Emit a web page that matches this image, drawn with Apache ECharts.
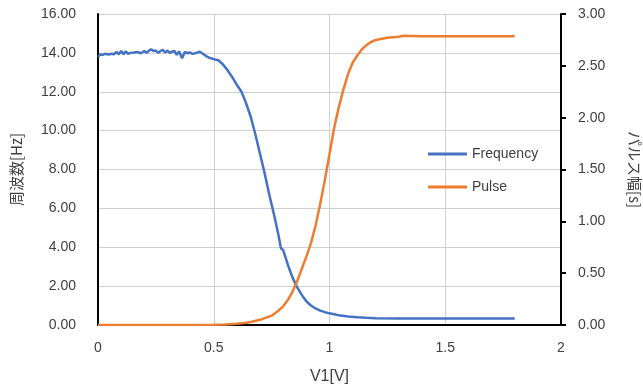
<!DOCTYPE html>
<html>
<head>
<meta charset="utf-8">
<script src="https://cdn.jsdelivr.net/npm/echarts@6/dist/echarts.min.js"></script>
<style>
  html, body { margin: 0; padding: 0; background: #fff; }
  #chart { width: 643px; height: 388px; }
</style>
</head>
<body>
<div id="chart"></div>
<script>
// frequency [Hz] vs V1 [V]
const freqV1 = [0, 0.01, 0.02, 0.03, 0.045, 0.06, 0.07, 0.08, 0.09, 0.1, 0.11, 0.12, 0.13, 0.14, 0.155, 0.17, 0.185, 0.2, 0.21,
  0.22, 0.23, 0.24, 0.25, 0.26, 0.27, 0.28, 0.29, 0.3, 0.31, 0.32, 0.33, 0.34, 0.35, 0.363, 0.375, 0.385, 0.395, 0.41,
  0.425, 0.44, 0.45, 0.465, 0.48, 0.5, 0.52, 0.54, 0.56, 0.58, 0.6, 0.62, 0.64, 0.66, 0.68, 0.7, 0.72, 0.74, 0.76, 0.78,
  0.79, 0.8, 0.82, 0.84, 0.86, 0.88, 0.9, 0.92, 0.94, 0.96, 0.98, 1.0, 1.04, 1.08, 1.12, 1.16, 1.2, 1.3, 1.4, 1.5, 1.6, 1.7, 1.8];
const freqHz = [13.8, 13.92, 13.9, 13.95, 13.92, 13.95, 13.93, 14.05, 13.92, 14.1, 13.93, 14.08, 13.95, 14.0, 14.02, 14.05, 13.98, 14.1, 14.0,
  14.12, 14.18, 14.1, 14.12, 14.0, 14.1, 14.15, 14.02, 14.12, 14.0, 14.06, 14.1, 13.9, 14.08, 13.72, 14.05, 13.98, 14.02, 13.95,
  14.0, 14.06, 13.98, 13.85, 13.75, 13.68, 13.62, 13.4, 13.1, 12.75, 12.35, 12.0, 11.4, 10.7, 9.8, 8.8, 7.8, 6.7, 5.7, 4.6,
  3.95, 3.85, 3.1, 2.45, 1.95, 1.55, 1.22, 1.0, 0.85, 0.74, 0.66, 0.6, 0.5, 0.44, 0.4, 0.37, 0.35, 0.34, 0.34, 0.34, 0.34, 0.34, 0.34];

// pulse width [s] vs V1 [V]
const pulseV1 = [0, 0.1, 0.2, 0.3, 0.4, 0.5, 0.55, 0.6, 0.65, 0.7, 0.75, 0.78, 0.8, 0.82, 0.84, 0.86, 0.88, 0.9, 0.92, 0.94,
  0.96, 0.98, 1.0, 1.02, 1.04, 1.06, 1.08, 1.1, 1.12, 1.14, 1.16, 1.18, 1.2, 1.25, 1.3, 1.32, 1.4, 1.5, 1.6, 1.7, 1.8];
const pulseS = [0, 0, 0, 0, 0, 0.002, 0.006, 0.012, 0.025, 0.05, 0.09, 0.14, 0.18, 0.24, 0.32, 0.42, 0.54, 0.66, 0.79, 0.96,
  1.17, 1.4, 1.65, 1.9, 2.1, 2.27, 2.42, 2.53, 2.6, 2.66, 2.7, 2.73, 2.75, 2.77, 2.78, 2.79, 2.785, 2.785, 2.785, 2.785, 2.785];

const xTicks = [0, 0.5, 1, 1.5, 2];

const txt = '#404040';
const latin = '"Liberation Sans", Arial, sans-serif';
const cjk = '"Noto Sans CJK JP", "Liberation Sans", sans-serif';

const chart = echarts.init(document.getElementById('chart'));
chart.setOption({
  animation: false,
  grid: { left: 98, right: 82, top: 14, bottom: 63, containLabel: false, outerBoundsMode: 'none' },
  legend: {
    orient: 'vertical',
    left: 423, top: 142,
    icon: 'rect',
    itemWidth: 39, itemHeight: 3, itemGap: 19,
    textStyle: { color: txt, fontSize: 14, fontFamily: latin },
    data: ['Frequency', 'Pulse']
  },
  xAxis: {
    type: 'value',
    min: xTicks[0], max: xTicks[xTicks.length - 1], interval: 0.5,
    name: 'V1[V]', nameLocation: 'middle', nameGap: 44,
    nameTextStyle: { color: txt, fontSize: 16, fontFamily: latin },
    axisLine: { lineStyle: { color: '#000', width: 2 } },
    axisTick: { show: false },
    axisLabel: { color: txt, fontSize: 14, fontFamily: latin, margin: 16 },
    splitLine: { lineStyle: { color: '#d0d0d0', width: 1 } }
  },
  yAxis: [{
    type: 'value', min: 0, max: 16, interval: 2,
    name: '周波数[Hz]', nameLocation: 'middle', nameGap: 74,
    nameTextStyle: { color: txt, fontSize: 15, fontFamily: cjk },
    axisLine: { show: true, lineStyle: { color: '#000', width: 2 } },
    axisTick: { show: false },
    axisLabel: { color: txt, fontSize: 14, fontFamily: latin, margin: 22, formatter: v => v.toFixed(2) },
    splitLine: { lineStyle: { color: '#d0d0d0', width: 1 } }
  }, {
    type: 'value', min: 0, max: 3, interval: 0.5, position: 'right',
    name: 'パルス幅[s]', nameLocation: 'middle', nameGap: 66, nameRotate: -90,
    nameTextStyle: { color: txt, fontSize: 15, fontFamily: cjk },
    axisLine: { show: true, lineStyle: { color: '#000', width: 2 } },
    axisTick: { show: true, length: 5, lineStyle: { color: '#000', width: 2 } },
    axisLabel: { color: txt, fontSize: 14, fontFamily: latin, margin: 17, formatter: v => v.toFixed(2) },
    splitLine: { show: false }
  }],
  series: [{
    name: 'Frequency', type: 'line', yAxisIndex: 0,
    symbol: 'none',
    lineStyle: { color: '#4472C4', width: 2.5 },
    itemStyle: { color: '#4472C4' },
    data: freqV1.map((x, i) => [x, freqHz[i]])
  }, {
    name: 'Pulse', type: 'line', yAxisIndex: 1,
    symbol: 'none',
    lineStyle: { color: '#ED7D31', width: 2.5 },
    itemStyle: { color: '#ED7D31' },
    data: pulseV1.map((x, i) => [x, pulseS[i]])
  }]
});
</script>
</body>
</html>
